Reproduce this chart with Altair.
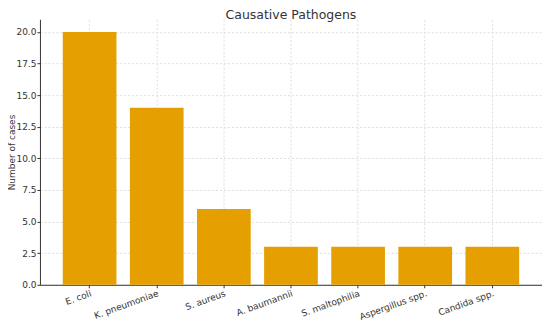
import altair as alt
import pandas as pd

pathogens = ["E. coli", "K. pneumoniae", "S. aureus", "A. baumannii",
             "S. maltophilia", "Aspergillus spp.", "Candida spp."]
cases = [20, 14, 6, 3, 3, 3, 3]
y_ticks = [0, 2.5, 5, 7.5, 10, 12.5, 15, 17.5, 20]

df = pd.DataFrame({"Pathogen": pathogens, "Cases": cases})

font = "DejaVu Sans"

chart = alt.Chart(df).mark_bar(color="#E69F00").encode(
    x=alt.X("Pathogen:N", sort=pathogens,
            scale=alt.Scale(paddingInner=0.2, paddingOuter=0.34),
            axis=alt.Axis(title=None, labelAngle=340, labelAlign="right",
                          labelBaseline="top", labelFontSize=9, labelColor="#333",
                          labelFont=font, tickColor="#333", tickSize=3,
                          domainColor="#333", bandPosition=0.5,
                          grid=True, gridColor="#ddd", gridDash=[2, 2],
                          labelPadding=1)),
    y=alt.Y("Cases:Q", scale=alt.Scale(domain=[0, 21], nice=False),
            axis=alt.Axis(title="Number of cases", values=y_ticks,
                          format=".1f", labelFontSize=9, labelColor="#333",
                          labelFont=font, titleFont=font, titleFontSize=9,
                          titleFontWeight="normal", titleColor="#333",
                          titleX=-28, titleY=133, titleAlign="center",
                          titleBaseline="middle", titleAngle=270,
                          tickColor="#333", tickSize=3, domainColor="#333",
                          gridColor="#ddd", gridDash=[2, 2],
                          labelPadding=1)),
).properties(
    width=503, height=266,
    title=alt.Title("Causative Pathogens", font=font, fontSize=12.5,
                    fontWeight="normal", color="#333", offset=-2),
    autosize=alt.AutoSizeParams(type="none"),
    padding={"left": 32, "top": 11, "right": 0, "bottom": 40},
).configure_view(stroke=None)

chart.save("out.html", embed_options={"renderer": "svg", "actions": False})
